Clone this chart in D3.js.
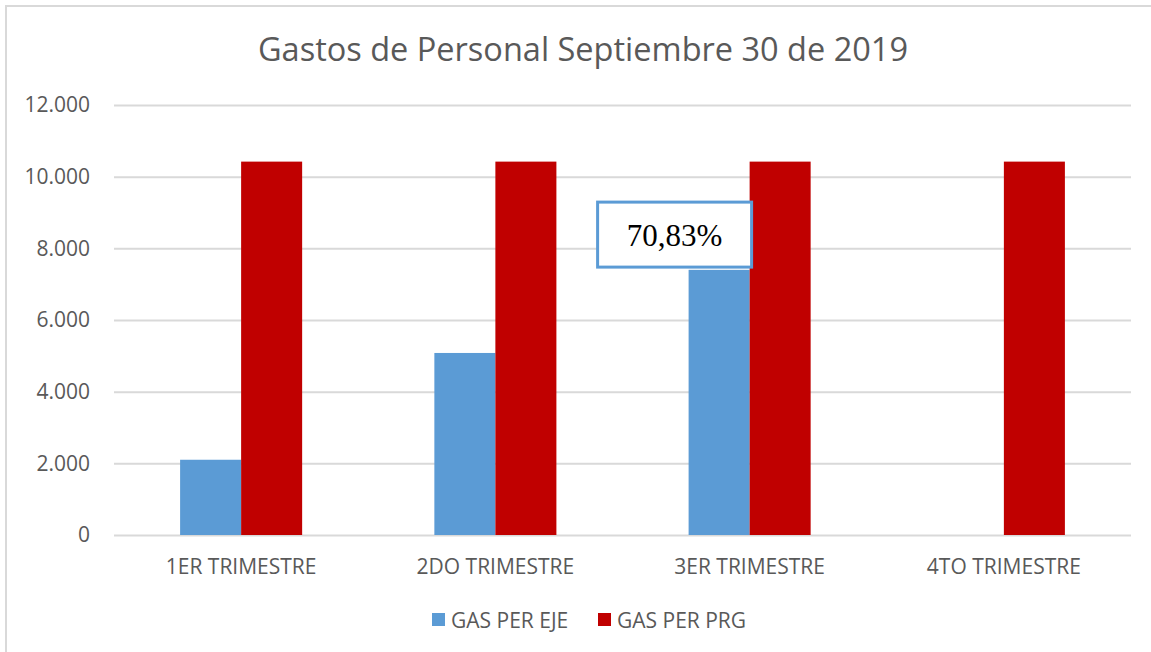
<!DOCTYPE html>
<html>
<head>
<meta charset="utf-8">
<script src="https://cdn.jsdelivr.net/npm/d3@7"></script>
<style>
    body { margin: 0; background: #fff; }
    text { font-family: "Open Sans", sans-serif; fill: #595959; }
</style>
</head>
<body>
<svg id="chart"></svg>
<script>
const categories = ["1ER TRIMESTRE", "2DO TRIMESTRE", "3ER TRIMESTRE", "4TO TRIMESTRE"];
const seriesNames = ["GAS PER EJE", "GAS PER PRG"];
const gasPerEje = [2100, 5080, 7400, null];
const gasPerPrg = [10420, 10420, 10420, 10420];
const yTicks = [0, 2000, 4000, 6000, 8000, 10000, 12000];
const calloutText = "70,83%";

const colors = ["#5b9bd5", "#c00000"];
const width = 1151, height = 652;
const margin = { top: 105, right: 20, bottom: 117, left: 114 };

const svg = d3.select("#chart").attr("width", width).attr("height", height);

// outer chart border (only top/left visible in the crop)
svg.append("rect")
    .attr("x", 6).attr("y", 6)
    .attr("width", width + 20).attr("height", height + 20)
    .attr("fill", "none")
    .attr("stroke", "#d9d9d9")
    .attr("stroke-width", 2);

const x = d3.scaleBand()
    .domain(categories)
    .range([margin.left, width - margin.right])
    .paddingInner(0.52)
    .paddingOuter(0.26);

const x1 = d3.scaleBand()
    .domain(seriesNames)
    .range([0, x.bandwidth()]);

const y = d3.scaleLinear()
    .domain([0, 12000])
    .range([height - margin.bottom, margin.top]);

const fmt = d3.formatLocale({ decimal: ",", thousands: ".", grouping: [3], currency: ["", ""] }).format(",d");

// gridlines + y labels
const yAxis = d3.axisLeft(y)
    .tickValues(yTicks)
    .tickSize(-(width - margin.right - margin.left))
    .tickPadding(24)
    .tickFormat(fmt);

const gy = svg.append("g")
    .attr("transform", `translate(${margin.left},0)`)
    .call(yAxis);
gy.select(".domain").remove();
gy.selectAll("line").attr("stroke", "#d9d9d9").attr("stroke-width", 2);
gy.selectAll("text").style("font-size", "21px").attr("fill", "#595959");

// bars
const rows = categories.map((c, i) => ({ cat: c, values: [gasPerEje[i], gasPerPrg[i]] }));

svg.append("g")
    .selectAll("g")
    .data(rows)
    .join("g")
    .attr("transform", d => `translate(${x(d.cat)},0)`)
    .selectAll("rect")
    .data(d => d.values.map((v, j) => ({ key: seriesNames[j], value: v, j })).filter(d => d.value != null))
    .join("rect")
    .attr("x", d => x1(d.key))
    .attr("width", x1.bandwidth())
    .attr("y", d => y(d.value))
    .attr("height", d => y(0) - y(d.value))
    .attr("fill", d => colors[d.j]);

// x labels
const xAxis = d3.axisBottom(x).tickSize(0).tickPadding(24);
const gx = svg.append("g")
    .attr("transform", `translate(0,${y(0)})`)
    .call(xAxis);
gx.select(".domain").remove();
gx.selectAll("text").style("font-size", "21px").attr("fill", "#595959");

// title
svg.append("text")
    .attr("x", 583)
    .attr("y", 61)
    .attr("text-anchor", "middle")
    .style("font-size", "32.5px")
    .text("Gastos de Personal Septiembre 30 de 2019");

// callout box on 3ER TRIMESTRE
const boxX = x(categories[2]) + x1(seriesNames[0]) - 91;
const boxY = y(9290);
svg.append("rect")
    .attr("x", boxX)
    .attr("y", boxY)
    .attr("width", 154)
    .attr("height", 65)
    .attr("fill", "#fff")
    .attr("stroke", "#5b9bd5")
    .attr("stroke-width", 3);

svg.append("text")
    .attr("x", boxX + 77)
    .attr("y", boxY + 44)
    .attr("text-anchor", "middle")
    .style("font-family", "'Liberation Serif', 'Times New Roman', serif")
    .style("font-size", "31px")
    .style("fill", "#000")
    .text(calloutText);

// legend
const legend = svg.append("g");
const legendX = [432, 598];
seriesNames.forEach((name, i) => {
    legend.append("rect")
        .attr("x", legendX[i])
        .attr("y", 613)
        .attr("width", 13)
        .attr("height", 13)
        .attr("fill", colors[i]);
    legend.append("text")
        .attr("x", legendX[i] + 19)
        .attr("y", 628)
        .style("font-size", "21px")
        .text(name);
});
</script>
</body>
</html>
